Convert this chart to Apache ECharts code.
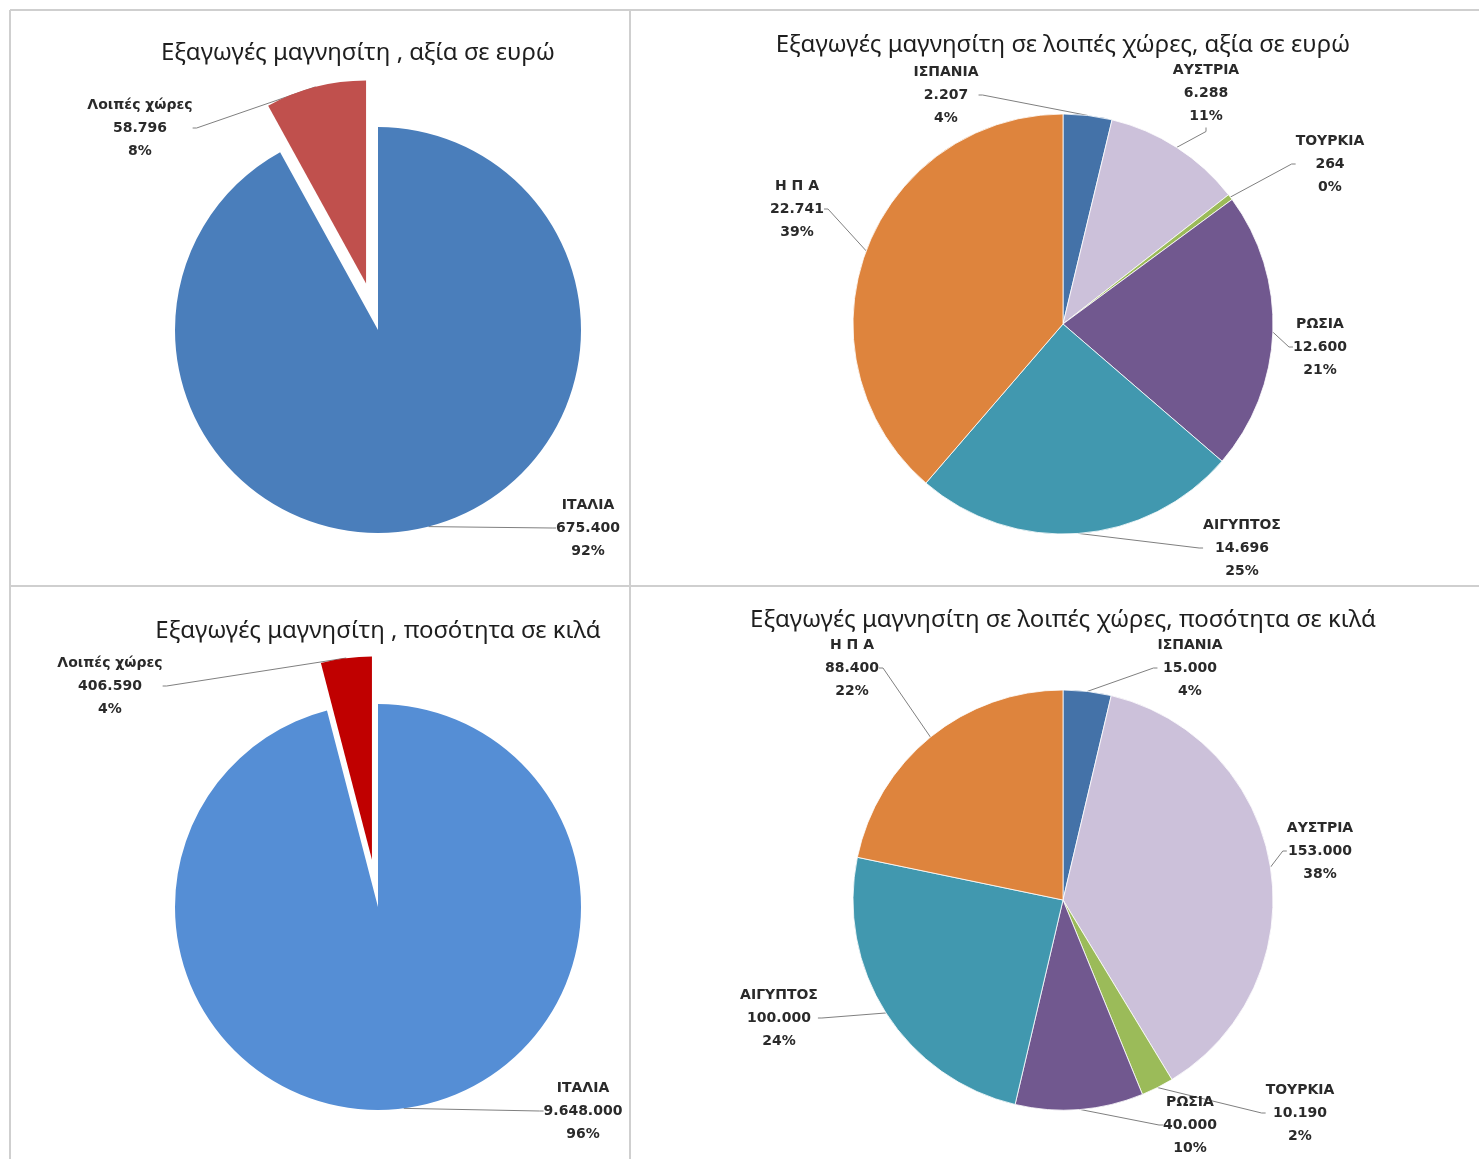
<!DOCTYPE html>
<html><head><meta charset="utf-8">
<script src="https://cdn.jsdelivr.net/npm/echarts@6/dist/echarts.min.js"></script>
<style>html,body{margin:0;padding:0;background:#fff}#c{width:1479px;height:1159px}</style>
</head><body><div id="c"></div>
<script>
// ---- data ----
const titleTexts = [
  'Εξαγωγές μαγνησίτη , αξία σε ευρώ',
  'Εξαγωγές μαγνησίτη σε λοιπές χώρες, αξία σε ευρώ',
  'Εξαγωγές μαγνησίτη , ποσότητα σε κιλά',
  'Εξαγωγές μαγνησίτη σε λοιπές χώρες, ποσότητα σε κιλά'
];
const mainCats = ['ΙΤΑΛΙΑ', 'Λοιπές χώρες'];
const valueEur = [675400, 58796];
const qtyKg = [9648000, 406590];
const otherCats = ['ΙΣΠΑΝΙΑ', 'ΑΥΣΤΡΙΑ', 'ΤΟΥΡΚΙΑ', 'ΡΩΣΙΑ', 'ΑΙΓΥΠΤΟΣ', 'Η Π Α'];
const otherEur = [2207, 6288, 264, 12600, 14696, 22741];
const otherKg = [15000, 153000, 10190, 40000, 100000, 88400];
const explodedIndex = 1;

// ---- layout / style ----
const otherColors = ['#4472A8', '#CCC1DA', '#9BBB59', '#71588F', '#4198AF', '#DE843D'];
const explodeDistance = 48;
const panels = [
  { cats: mainCats, vals: valueEur, center: [378, 330], r: 203, title: [358, 52],
    colors: ['#4A7EBB', '#C0504D'], labels: [[588, 528], [140, 128]], explode: true },
  { cats: otherCats, vals: otherEur, center: [1063, 324], r: 210, title: [1063, 44],
    colors: otherColors, labels: [[946, 95], [1206, 93], [1330, 164], [1320, 347], [1242, 548], [797, 209]] },
  { cats: mainCats, vals: qtyKg, center: [378, 907], r: 203, title: [378, 630],
    colors: ['#558ED5', '#C00000'], labels: [[583, 1111], [110, 686]], explode: true },
  { cats: otherCats, vals: otherKg, center: [1063, 900], r: 210, title: [1063, 619],
    colors: otherColors, labels: [[1190, 668], [1320, 851], [1300, 1113], [1190, 1125], [779, 1018], [852, 668]] }
];

function fmt(v) { return String(v).replace(/\B(?=(\d{3})+(?!\d))/g, '.'); }

const labelStyle = {
  show: true,
  formatter: (d) => d.name + '\n' + fmt(d.value) + '\n' + d.percent + '%',
  fontFamily: 'DejaVu Sans',
  fontWeight: 'bold',
  fontSize: 14,
  lineHeight: 23,
  color: '#2a2a2a',
  align: 'center'
};
const labelLineStyle = { show: true, length: 8, length2: 4, lineStyle: { color: '#808080', width: 1 } };
const hidden = { itemStyle: { opacity: 0 }, label: { show: false }, labelLine: { show: false } };

function makeSeries(p, center, visibleFn) {
  return {
    type: 'pie',
    center: center,
    radius: [0, p.r],
    startAngle: 90,
    clockwise: true,
    percentPrecision: 0,
    avoidLabelOverlap: false,
    animation: false,
    silent: true,
    emphasis: { disabled: true },
    itemStyle: { borderColor: '#ffffff', borderWidth: p.explode ? 0 : 0.8 },
    label: labelStyle,
    labelLine: labelLineStyle,
    labelLayout: (params) => {
      const pos = p.labels[params.dataIndex];
      return { x: pos[0], y: pos[1], align: 'center', verticalAlign: 'middle' };
    },
    data: p.cats.map((c, i) => Object.assign(
      { name: c, value: p.vals[i], itemStyle: { color: p.colors[i] } },
      visibleFn(i) ? {} : hidden,
      visibleFn(i) ? {} : { itemStyle: { color: p.colors[i], opacity: 0 } }
    ))
  };
}

const series = [];
panels.forEach((p) => {
  if (!p.explode) {
    series.push(makeSeries(p, p.center, () => true));
    return;
  }
  // exploded slice: same pie, shifted along the slice's mid-angle
  const total = p.vals.reduce((a, b) => a + b, 0);
  const before = p.vals.slice(0, explodedIndex).reduce((a, b) => a + b, 0);
  const theta = 2 * Math.PI * (before + p.vals[explodedIndex] / 2) / total;
  const shifted = [p.center[0] + explodeDistance * Math.sin(theta),
                   p.center[1] - explodeDistance * Math.cos(theta)];
  series.push(makeSeries(p, p.center, (i) => i !== explodedIndex));
  series.push(makeSeries(p, shifted, (i) => i === explodedIndex));
});

const title = panels.map((p, i) => ({
  text: titleTexts[i],
  left: p.title[0],
  top: p.title[1] - 11,
  textAlign: 'center',
  padding: 0,
  textStyle: { fontFamily: 'Noto Sans', fontWeight: 'normal', fontSize: 24, color: '#1e1e1e' }
}));

const lineStyle = { stroke: '#cfcfcf', lineWidth: 2 };
const graphic = [
  { type: 'line', shape: { x1: 10, y1: 10, x2: 1479, y2: 10 }, style: lineStyle, silent: true },
  { type: 'line', shape: { x1: 10, y1: 10, x2: 10, y2: 1159 }, style: lineStyle, silent: true },
  { type: 'line', shape: { x1: 630, y1: 10, x2: 630, y2: 1159 }, style: lineStyle, silent: true },
  { type: 'line', shape: { x1: 10, y1: 586, x2: 1479, y2: 586 }, style: lineStyle, silent: true }
];

const chart = echarts.init(document.getElementById('c'), null, { renderer: 'canvas' });
chart.setOption({ backgroundColor: '#ffffff', animation: false, title, series, graphic });
</script>
</body></html>
